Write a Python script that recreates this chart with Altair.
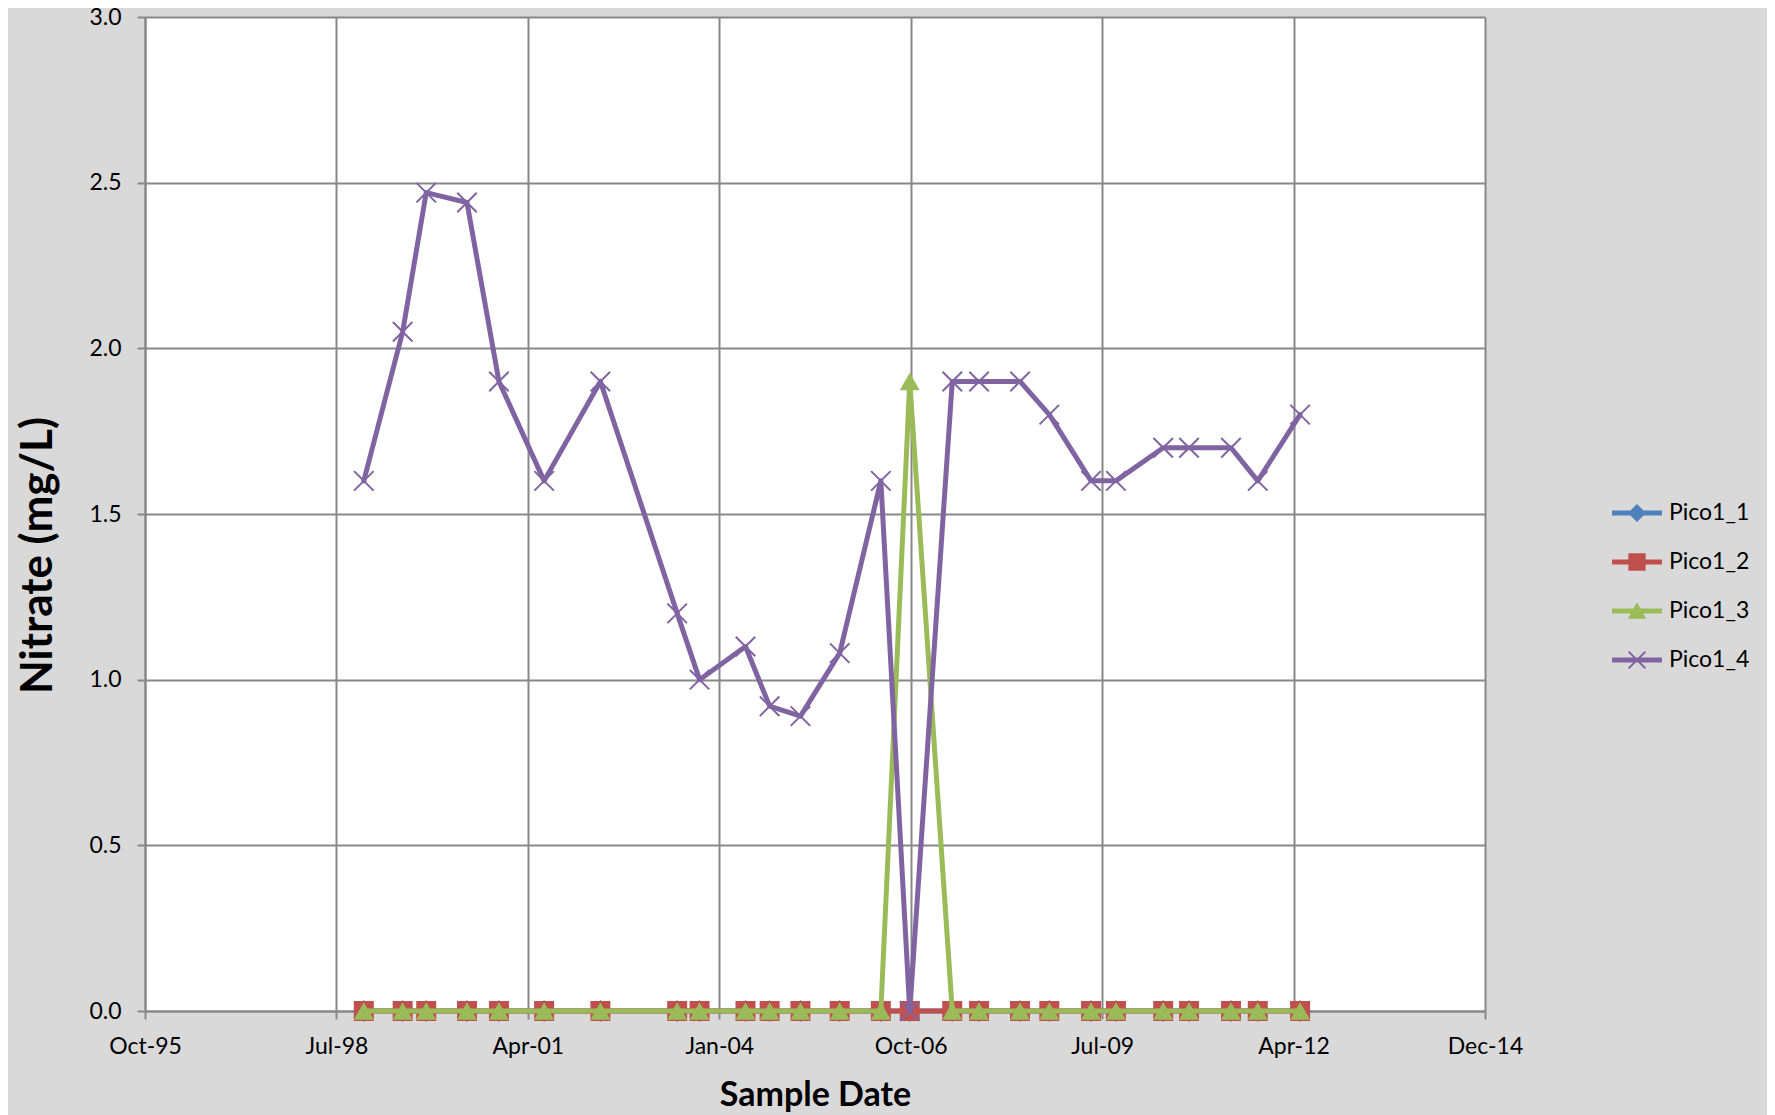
import altair as alt
import pandas as pd

# ---- data ----
dates = ["1998-12-14", "1999-07-05", "1999-11-05", "2000-06-05", "2000-11-19",
         "2001-07-13", "2002-05-03", "2003-06-08", "2003-10-03", "2004-05-30",
         "2004-10-03", "2005-03-13", "2005-10-04", "2006-05-07", "2006-10-05",
         "2007-05-15", "2007-10-02", "2008-05-03", "2008-10-03", "2009-05-09",
         "2009-09-16", "2010-05-21", "2010-10-03", "2011-05-10", "2011-09-27",
         "2012-05-05"]
pico1_1 = [0.0, 0.0, 0.0, 0.0, 0.0, 0.0, 0.0, 0.0, 0.0, 0.0, 0.0, 0.0, 0.0,
           0.0, 0.0, 0.0, 0.0, 0.0, 0.0, 0.0, 0.0, 0.0, 0.0, 0.0, 0.0, 0.0]
pico1_2 = [0.0, 0.0, 0.0, 0.0, 0.0, 0.0, 0.0, 0.0, 0.0, 0.0, 0.0, 0.0, 0.0,
           0.0, 0.0, 0.0, 0.0, 0.0, 0.0, 0.0, 0.0, 0.0, 0.0, 0.0, 0.0, 0.0]
pico1_3 = [0.0, 0.0, 0.0, 0.0, 0.0, 0.0, 0.0, 0.0, 0.0, 0.0, 0.0, 0.0, 0.0,
           0.0, 1.9, 0.0, 0.0, 0.0, 0.0, 0.0, 0.0, 0.0, 0.0, 0.0, 0.0, 0.0]
pico1_4 = [1.60, 2.05, 2.47, 2.44, 1.90, 1.60, 1.90, 1.20, 1.00, 1.10, 0.92,
           0.89, 1.08, 1.60, 0.00, 1.90, 1.90, 1.90, 1.80, 1.60, 1.60, 1.70,
           1.70, 1.70, 1.60, 1.80]

series_names = ["Pico1_1", "Pico1_2", "Pico1_3", "Pico1_4"]
series_colors = ["#4F81BD", "#C0504D", "#9BBB59", "#8064A2"]
series_shapes = ["diamond", "square", "triangle-up", "M-1,-1L1,1M-1,1L1,-1"]

y_ticks = [0.0, 0.5, 1.0, 1.5, 2.0, 2.5, 3.0]
# x tick dates (year, month, day): Oct-95 ... Dec-14
x_ticks = [(1995, 10, 28), (1998, 7, 24), (2001, 4, 19), (2004, 1, 14),
           (2006, 10, 10), (2009, 7, 6), (2012, 4, 1), (2014, 12, 27)]

# legend symbols: a line segment plus the series marker (unit coordinates)
LINE = "M-1.04,-0.1L1.04,-0.1L1.04,0.1L-1.04,0.1Z"
legend_paths = [
    LINE + "M0,-0.38L0.38,0L0,0.38L-0.38,0Z",
    LINE + "M-0.36,-0.36L0.36,-0.36L0.36,0.36L-0.36,0.36Z",
    LINE + "M0,-0.36L0.38,0.32L-0.38,0.32Z",
    LINE + "M-0.32,-0.38L0.38,0.32L0.32,0.38L-0.38,-0.32Z"
           "M0.32,-0.38L0.38,-0.32L-0.32,0.38L-0.38,0.32Z",
]

# ---- long table ----
rows = []
for name, vals in zip(series_names, [pico1_1, pico1_2, pico1_3, pico1_4]):
    for d, v in zip(dates, vals):
        rows.append({"date": d, "series": name, "value": v})
df = pd.DataFrame(rows)


def dt(t):
    return alt.DateTime(year=t[0], month=t[1], date=t[2], utc=True)


x_enc = alt.X(
    "date:T",
    scale=alt.Scale(type="utc", domain=[dt(x_ticks[0]), dt(x_ticks[-1])], nice=False),
    axis=alt.Axis(
        values=[dt(t) for t in x_ticks],
        labelExpr="utcFormat(datum.value, '%b-%y')",
        title="Sample Date", titleFontSize=34, titleX=670, titleY=84,
        titleBaseline="middle", titleAlign="center",
        labelPadding=16, labelFlush=False, labelOverlap=False,
    ),
)
y_enc = alt.Y(
    "value:Q",
    scale=alt.Scale(domain=[0, 3], nice=False),
    axis=alt.Axis(
        values=y_ticks, format=".1f",
        title="Nitrate (mg/L)", titleFontSize=44, titleX=-107, titleY=538,
        titleBaseline="middle", titleAlign="center", titleAngle=270,
        labelPadding=16, labelFlush=False,
    ),
)

base = alt.Chart(df)
layers = []
for name, color, shape in zip(series_names, series_colors, series_shapes):
    sub = base.transform_filter(alt.datum.series == name)
    layers.append(
        sub.mark_line(strokeWidth=5, color=color, strokeJoin="round", strokeCap="round")
        .encode(x=x_enc, y=y_enc)
    )
    if shape.startswith("M"):
        pts = sub.mark_point(shape=shape, filled=False, size=380, strokeWidth=2,
                             color=color, opacity=1)
    elif shape == "diamond":
        pts = sub.mark_point(shape=shape, filled=True, size=480, color=color, opacity=1)
    else:
        pts = sub.mark_point(shape=shape, filled=True, size=400, color=color, opacity=1)
    layers.append(pts.encode(x=x_enc, y=y_enc))

legend_props = dict(
    orient="none", legendX=1468, legendY=472, title=None,
    symbolSize=2304, symbolStrokeWidth=0, labelFont="Lato", labelFontSize=23,
    labelColor="black", labelOffset=8, rowPadding=13, padding=0,
)
legend_layer = base.transform_filter("false").mark_point(filled=True, opacity=1).encode(
    x=x_enc, y=y_enc,
    color=alt.Color("series:N", scale=alt.Scale(domain=series_names, range=series_colors),
                    legend=alt.Legend(**legend_props)),
    shape=alt.Shape("series:N", scale=alt.Scale(domain=series_names, range=legend_paths),
                    legend=alt.Legend(**legend_props)),
)
layers.append(legend_layer)

chart = alt.layer(*layers).properties(
    width=1340, height=994,
    padding={"left": 137, "top": 9, "right": 282, "bottom": 104},
    autosize=alt.AutoSizeParams(type="none"),
    background="#D9D9D9",
).configure(font="Lato").configure_view(stroke=None, fill="white").configure_axis(
    gridColor="#888888", gridWidth=2, domainColor="#888888", domainWidth=2,
    tickColor="#888888", tickWidth=2, tickSize=8,
    labelFont="Lato", labelFontSize=23, labelColor="black",
    titleFont="Lato", titleFontWeight="bold", titleColor="black",
)

chart.save("out.html", embed_options={"renderer": "svg", "actions": False})
